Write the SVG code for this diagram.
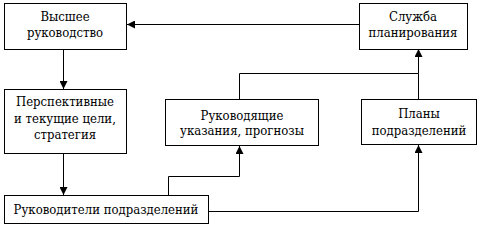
<svg xmlns="http://www.w3.org/2000/svg" width="478" height="226" viewBox="0 0 478 226">
<style>
.box{fill:#fff;stroke:#000;stroke-width:1}
.t{font-family:"DejaVu Serif Condensed","DejaVu Serif","Liberation Serif",serif;font-stretch:condensed;font-size:13px;fill:#000;text-anchor:middle}
.c{fill:none;stroke:#000;stroke-width:1}
</style>
<defs>
<marker id="a" viewBox="0 0 10 10" refX="10" refY="5" markerWidth="8" markerHeight="8" markerUnits="userSpaceOnUse" orient="auto">
<path d="M0,0L10,5L0,10z" fill="#000"/>
</marker>
</defs>
<rect width="478" height="226" fill="#fff"/>
<g id="connectors">
<path class="c" d="M359.5,24.5H127" marker-end="url(#a)"/>
<path class="c" d="M63.5,49.5V89" marker-end="url(#a)"/>
<path class="c" d="M63.5,153.5V195" marker-end="url(#a)"/>
<path class="c" d="M168.5,195.5V176.5H239.5V146" marker-end="url(#a)"/>
<path class="c" d="M239.5,99.5V73.5H418.5V49" marker-end="url(#a)"/>
<path class="c" d="M418.5,99.5V73.5"/>
<path class="c" d="M208.5,211.5H418.5V145" marker-end="url(#a)"/>
</g>
<g id="n1">
<rect class="box" x="4.5" y="3.5" width="122" height="46"/>
<text class="t" x="65" y="21">Высшее</text>
<text class="t" x="65" y="37">руководство</text>
</g>
<g id="n2">
<rect class="box" x="359.5" y="3.5" width="108" height="46"/>
<text class="t" x="413" y="21">Служба</text>
<text class="t" x="413" y="37">планирования</text>
</g>
<g id="n3">
<rect class="box" x="4.5" y="89.5" width="122" height="64"/>
<text class="t" x="65" y="106">Перспективные</text>
<text class="t" x="65" y="123">и текущие цели,</text>
<text class="t" x="65" y="139">стратегия</text>
</g>
<g id="n4">
<rect class="box" x="165.5" y="99.5" width="153" height="46"/>
<text class="t" x="242" y="120">Руководящие</text>
<text class="t" x="242" y="135">указания, прогнозы</text>
</g>
<g id="n5">
<rect class="box" x="361.5" y="99.5" width="115" height="45"/>
<text class="t" x="419" y="118">Планы</text>
<text class="t" x="419" y="135">подразделений</text>
</g>
<g id="n6">
<rect class="box" x="4.5" y="195.5" width="204" height="28"/>
<text class="t" x="106" y="214">Руководители подразделений</text>
</g>
</svg>
